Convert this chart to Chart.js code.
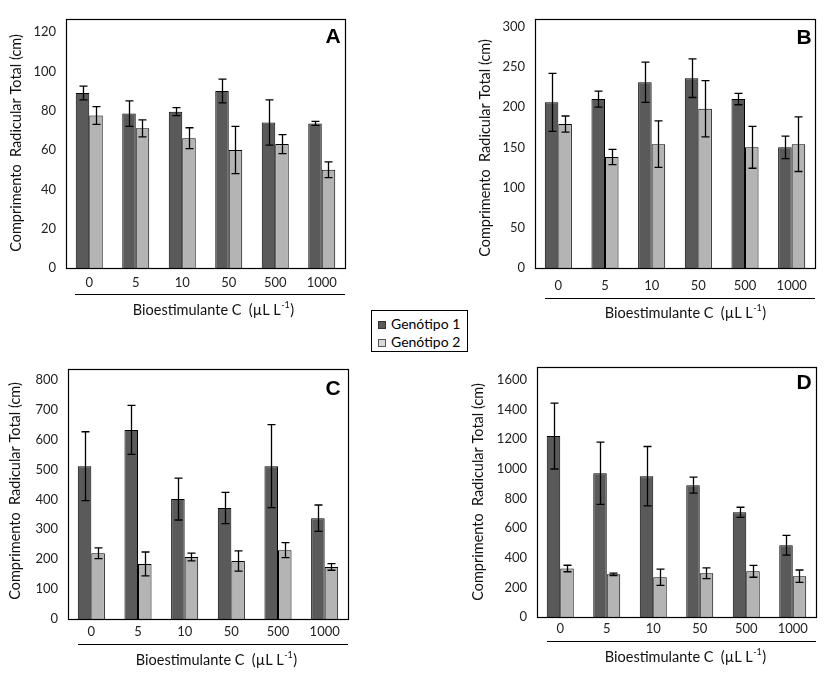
<!DOCTYPE html>
<html>
<head>
<meta charset="utf-8">
<script src="https://cdn.jsdelivr.net/npm/chart.js@4"></script>
<style>
  html, body { margin:0; padding:0; background:#fff; }
  #wrap { position:relative; width:824px; height:678px; overflow:hidden; }
  canvas { position:absolute; left:0; top:0; }
  #legend { position:absolute; left:371px; top:310px; width:97px; height:42px; border:1px solid #000; box-sizing:border-box;
            font-family: Lato, "Open Sans", sans-serif; font-size:14px; color:#000; background:#fff; }
  .row { position:absolute; left:6px; height:16px; line-height:16px; white-space:nowrap; }
  .sw { display:inline-block; width:8px; height:8px; margin-right:5px; vertical-align:0px; box-sizing:border-box; }
</style>
</head>
<body>
<div id="wrap">
  <canvas id="cA" width="824" height="678"></canvas>
  <canvas id="cB" width="824" height="678"></canvas>
  <canvas id="cC" width="824" height="678"></canvas>
  <canvas id="cD" width="824" height="678"></canvas>
  <div id="legend">
    <div class="row" style="top:5px"><span class="sw" style="background:#5a5a5a;border:1px solid #333"></span>Genótipo 1</div>
    <div class="row" style="top:23px"><span class="sw" style="background:#d9d9d9;border:1px solid #555"></span>Genótipo 2</div>
  </div>
</div>
<script>
// ---- data ----
const categories = ['0', '5', '10', '50', '500', '1000'];
const seriesNames = ['Genótipo 1', 'Genótipo 2'];
const yTitle = 'Comprimento  Radicular Total (cm)';
const xTitleMain = 'Bioestimulante C  (\u00b5L L';
const xTitleSup = '-1';

const g1A = [89, 78.5, 79.5, 90, 74, 73.5];
const g1AErr = [3.5, 6.5, 2, 6, 11.5, 1];
const g2A = [77.5, 71, 66, 60, 63, 50];
const g2AErr = [4.5, 4.3, 5.3, 12, 4.8, 4];

const g1B = [206, 210, 231, 236, 210, 150];
const g1BErr = [36, 10, 25, 24, 7, 14];
const g2B = [179, 138, 154, 198, 150, 154];
const g2BErr = [10, 9.5, 29, 35, 26, 34];

const g1C = [511, 632, 401, 371, 511, 337];
const g1CErr = [115, 82, 70, 52, 139, 44];
const g2C = [220, 184, 207, 194, 230, 174];
const g2CErr = [18, 40, 13, 34, 25, 11];

const g1D = [1220, 970, 950, 889, 706, 484];
const g1DErr = [222, 210, 200, 54, 34, 67];
const g2D = [327, 288, 268, 295, 308, 275];
const g2DErr = [22, 8, 55, 36, 40, 42];

// ---- drawing ----
const FONT = 'Lato, "Open Sans", sans-serif';
const W = 824, H = 678;
const YW = 50, XH = 30;

const panelPlugin = {
  id: 'panel',
  afterDatasetsDraw(chart) {
    const o = chart.options.plugins.panel;
    const ctx = chart.ctx, a = chart.chartArea, ys = chart.scales.y;
    ctx.save();
    // error bars
    ctx.strokeStyle = '#000';
    ctx.lineWidth = 1.3;
    chart.data.datasets.forEach((ds, di) => {
      const meta = chart.getDatasetMeta(di);
      meta.data.forEach((bar, i) => {
        const v = ds.data[i], e = ds.errors[i];
        const yt = ys.getPixelForValue(v + e), yb = ys.getPixelForValue(v - e);
        const x = Math.round(bar.x) + 0.5;
        ctx.beginPath();
        ctx.moveTo(x, yt); ctx.lineTo(x, yb);
        ctx.moveTo(x - 4, yt); ctx.lineTo(x + 4, yt);
        ctx.moveTo(x - 4, yb); ctx.lineTo(x + 4, yb);
        ctx.stroke();
      });
    });
    // plot box
    ctx.lineWidth = 1.2;
    ctx.strokeRect(Math.round(a.left) + 0.5, Math.round(a.top) + 0.5, Math.round(a.right - a.left), Math.round(a.bottom - a.top));
    // line under category labels
    ctx.lineWidth = 1;
    ctx.beginPath();
    ctx.moveTo(o.lineX0, o.lineY + 0.5); ctx.lineTo(a.right, o.lineY + 0.5);
    ctx.stroke();
    // panel letter
    ctx.fillStyle = '#000';
    ctx.font = 'bold 21px "Liberation Sans", Arial, sans-serif';
    ctx.textAlign = 'center'; ctx.textBaseline = 'middle';
    ctx.fillText(o.letter, o.letterX, o.letterY);
    // x title with superscript
    const mf = '14.5px ' + FONT, sf = '9px ' + FONT;
    ctx.font = mf;
    const w1 = ctx.measureText(xTitleMain).width;
    ctx.font = sf;
    const w2 = ctx.measureText(xTitleSup).width;
    ctx.font = mf;
    const w3 = ctx.measureText(')').width;
    let x0 = o.xTitleX - (w1 + w2 + w3) / 2;
    ctx.textAlign = 'left';
    ctx.fillStyle = '#111';
    ctx.fillText(xTitleMain, x0, o.xTitleY);
    ctx.font = sf;
    ctx.fillText(xTitleSup, x0 + w1 + 0.5, o.xTitleY - 5);
    ctx.font = mf;
    ctx.fillText(')', x0 + w1 + w2 + 1, o.xTitleY);
    // y title
    ctx.save();
    ctx.translate(o.yTitleX, o.yTitleY);
    ctx.rotate(-Math.PI / 2);
    ctx.textAlign = 'center';
    ctx.font = '14.5px ' + FONT;
    ctx.fillText(yTitle, 0, 0);
    ctx.restore();
    ctx.restore();
  }
};

function makePanel(id, g1, g1e, g2, g2e, p) {
  new Chart(document.getElementById(id), {
    type: 'bar',
    data: {
      labels: categories,
      datasets: [
        { label: seriesNames[0], data: g1, errors: g1e, backgroundColor: '#5a5a5a', borderColor: '#000', borderWidth: 1 },
        { label: seriesNames[1], data: g2, errors: g2e, backgroundColor: '#b4b4b4', borderColor: '#000', borderWidth: 1 }
      ]
    },
    options: {
      responsive: false,
      animation: false,
      devicePixelRatio: 1,
      events: [],
      layout: { padding: { left: p.L - YW, right: W - p.R, top: p.T, bottom: H - p.B - XH } },
      datasets: { bar: { categoryPercentage: 0.58, barPercentage: 1.0 } },
      plugins: {
        legend: { display: false },
        tooltip: { enabled: false },
        panel: p
      },
      scales: {
        x: {
          grid: { display: false, drawTicks: false },
          border: { display: false },
          ticks: { padding: p.xPad, color: '#222', font: { family: FONT, size: 13 } },
          afterFit(s) { s.height = XH; }
        },
        y: {
          min: 0, max: p.max,
          grid: { display: false, drawTicks: false },
          border: { display: false },
          ticks: { stepSize: p.step, includeBounds: false, padding: 10, color: '#222',
                   font: { family: FONT, size: 13 }, callback: (v) => String(v) },
          afterFit(s) { s.width = YW; }
        }
      }
    },
    plugins: [panelPlugin]
  });
}

makePanel('cA', g1A, g1AErr, g2A, g2AErr, {
  L: 66, R: 345, T: 19, B: 268, max: 126.6, step: 20, xPad: 7,
  letter: 'A', letterX: 333, letterY: 37,
  lineX0: 75, lineY: 294, xTitleX: 213, xTitleY: 310, yTitleX: 16, yTitleY: 143
});
makePanel('cB', g1B, g1BErr, g2B, g2BErr, {
  L: 535, R: 815, T: 19, B: 268, max: 309.6, step: 50, xPad: 10,
  letter: 'B', letterX: 804, letterY: 38,
  lineX0: 545, lineY: 298, xTitleX: 685, xTitleY: 313, yTitleX: 485, yTitleY: 148
});
makePanel('cC', g1C, g1CErr, g2C, g2CErr, {
  L: 68, R: 348, T: 369, B: 619, max: 835.7, step: 100, xPad: 5,
  letter: 'C', letterX: 333, letterY: 389,
  lineX0: 78, lineY: 644, xTitleX: 216, xTitleY: 660, yTitleX: 15, yTitleY: 491
});
makePanel('cD', g1D, g1DErr, g2D, g2DErr, {
  L: 537, R: 816, T: 367, B: 617, max: 1686, step: 200, xPad: 4,
  letter: 'D', letterX: 804, letterY: 383,
  lineX0: 547, lineY: 641, xTitleX: 685, xTitleY: 657, yTitleX: 478, yTitleY: 492
});
</script>
</body>
</html>
